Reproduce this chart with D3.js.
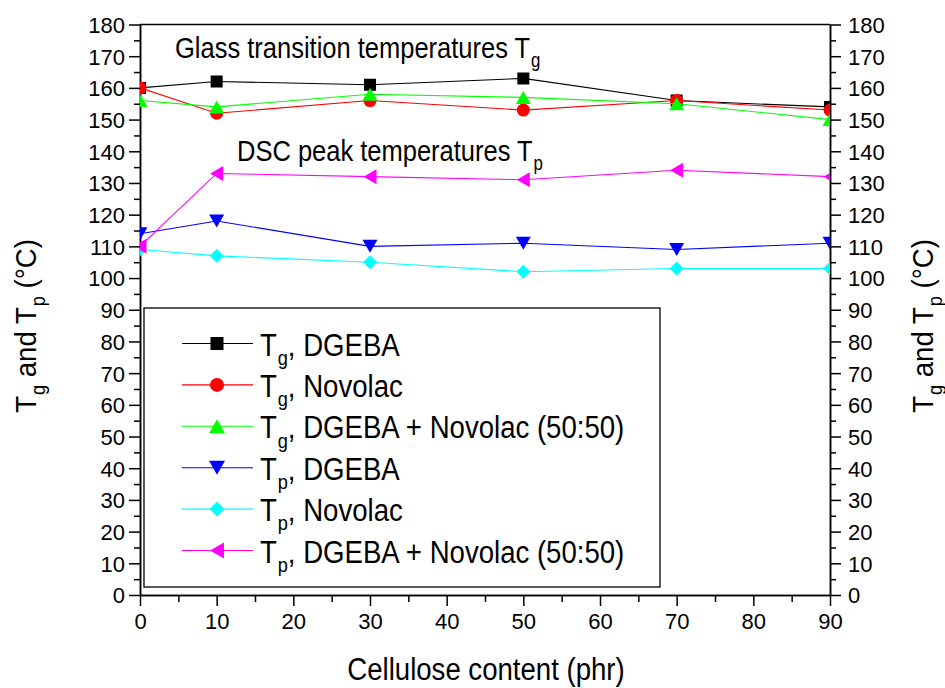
<!DOCTYPE html>
<html>
<head>
<meta charset="utf-8">
<script src="https://cdn.jsdelivr.net/npm/d3@7/dist/d3.min.js"></script>
<style>
  html, body { margin: 0; padding: 0; background: #fff; }
  svg { display: block; font-family: "Liberation Sans", Arial, sans-serif; }
</style>
</head>
<body>
<svg id="chart" width="945" height="688"></svg>
<script>
// Cellulose content (phr)
const cellulose = [0, 10, 30, 50, 70, 90];

// Glass transition temperatures Tg (°C)
const tgDGEBA   = [160, 162, 161, 163, 156, 154];
const tgNovolac = [160, 152, 156, 153, 156, 153];
const tgBlend   = [156, 154, 158, 157, 155, 150];

// DSC peak temperatures Tp (°C)
const tpDGEBA   = [114, 118, 110, 111, 109, 111];
const tpNovolac = [109, 107, 105, 102, 103, 103];
const tpBlend   = [110, 133, 132, 131, 134, 132];

const xTicks = [0, 10, 20, 30, 40, 50, 60, 70, 80, 90];
const yTicks = d3.range(0, 181, 10);

const seriesNames = ["DGEBA", "Novolac", "DGEBA + Novolac (50:50)"];

const series = [
  { sym: "g", name: seriesNames[0], values: tgDGEBA,   color: "#000000", marker: "square" },
  { sym: "g", name: seriesNames[1], values: tgNovolac, color: "#ff0000", marker: "circle" },
  { sym: "g", name: seriesNames[2], values: tgBlend,   color: "#00ff00", marker: "triUp" },
  { sym: "p", name: seriesNames[0], values: tpDGEBA,   color: "#0000ff", marker: "triDown" },
  { sym: "p", name: seriesNames[1], values: tpNovolac, color: "#00ffff", marker: "diamond" },
  { sym: "p", name: seriesNames[2], values: tpBlend,   color: "#ff00ff", marker: "triLeft" }
];

const svg = d3.select("#chart");
const plot = { left: 140, right: 830, top: 24.5, bottom: 595 };

const x = d3.scaleLinear().domain([0, 90]).range([plot.left, plot.right]);
const y = d3.scaleLinear().domain([0, 180]).range([plot.bottom, plot.top]);

// marker outlines centred on the origin
function markerPath(type, s) {
  const h = s / 2;
  switch (type) {
    case "square":  return `M${-h},${-h}H${h}V${h}H${-h}Z`;
    case "circle":  return `M${h},0A${h},${h} 0 1,1 ${-h},0A${h},${h} 0 1,1 ${h},0Z`;
    case "triUp":   return `M0,${-h}L${h + 1},${h}L${-h - 1},${h}Z`;
    case "triDown": return `M0,${h}L${h + 1},${-h}L${-h - 1},${-h}Z`;
    case "triLeft": return `M${-h},0L${h},${-h - 1}L${h},${h + 1}Z`;
    case "diamond": return `M0,${-h - 0.5}L${h + 0.5},0L0,${h + 0.5}L${-h - 0.5},0Z`;
  }
}
const markerSize = { square: 12, circle: 13, triUp: 13, triDown: 13, triLeft: 13, diamond: 13 };

svg.append("clipPath").attr("id", "plotClip")
  .append("rect")
  .attr("x", plot.left).attr("y", plot.top)
  .attr("width", plot.right - plot.left).attr("height", plot.bottom - plot.top);

// frame: top edge
svg.append("line")
  .attr("x1", plot.left).attr("x2", plot.right)
  .attr("y1", plot.top).attr("y2", plot.top)
  .attr("stroke", "#000").attr("stroke-width", 1.5);

// axes
const tickFont = "22px";
function styleAxis(g) {
  g.selectAll("path.domain").attr("stroke", "#000").attr("stroke-width", 1.5);
  g.selectAll(".tick line").attr("stroke", "#000").attr("stroke-width", 1.5);
  g.selectAll(".tick text").attr("font-size", tickFont).attr("fill", "#000")
    .attr("font-family", "'Liberation Sans', Arial, sans-serif");
}

const minorY = d3.range(5, 180, 10);
const minorX = d3.range(5, 90, 10);

// left
svg.append("g").attr("transform", `translate(${plot.left},0)`)
  .call(d3.axisLeft(y).tickValues(minorY).tickSize(6).tickFormat("").tickSizeOuter(0))
  .call(styleAxis);
svg.append("g").attr("transform", `translate(${plot.left},0)`)
  .call(d3.axisLeft(y).tickValues(yTicks).tickSize(11).tickPadding(4).tickSizeOuter(0))
  .call(styleAxis)
  .call(g => g.selectAll(".tick text").attr("dy", "0.36em"));

// right
svg.append("g").attr("transform", `translate(${plot.right},0)`)
  .call(d3.axisRight(y).tickValues(minorY).tickSize(6).tickFormat("").tickSizeOuter(0))
  .call(styleAxis);
svg.append("g").attr("transform", `translate(${plot.right},0)`)
  .call(d3.axisRight(y).tickValues(yTicks).tickSize(11).tickPadding(7).tickSizeOuter(0))
  .call(styleAxis)
  .call(g => g.selectAll(".tick text").attr("dy", "0.36em"));

// bottom
svg.append("g").attr("transform", `translate(0,${plot.bottom})`)
  .call(d3.axisBottom(x).tickValues(minorX).tickSize(7).tickFormat("").tickSizeOuter(0))
  .call(styleAxis);
svg.append("g").attr("transform", `translate(0,${plot.bottom})`)
  .call(d3.axisBottom(x).tickValues(xTicks).tickSize(11).tickPadding(6).tickSizeOuter(0))
  .call(styleAxis)
  .call(g => g.selectAll(".tick text").attr("dy", "0.75em"));

// text with a subscript, horizontally condensed
function labelText(parent, tx, ty, parts, opts = {}) {
  const size = opts.size || 30;
  const sx = opts.sx || 0.88;
  const rot = opts.rotate ? ` rotate(${opts.rotate})` : "";
  const g = parent.append("g").attr("transform", `translate(${tx},${ty})${rot} scale(${sx},1)`);
  const t = g.append("text").attr("font-size", size).attr("fill", "#000")
    .attr("text-anchor", opts.anchor || "start");
  let shifted = 0;
  parts.forEach(p => {
    const ts = t.append("tspan").text(p.text);
    if (p.sub) {
      ts.attr("font-size", size * 0.66).attr("dy", size * 0.3 - shifted).attr("dx", 1);
      shifted = size * 0.3;
    } else if (shifted) {
      ts.attr("dy", -shifted).attr("dx", p.dx || 0);
      shifted = 0;
    }
  });
  return g;
}

// plotted series
const plotArea = svg.append("g").attr("clip-path", "url(#plotClip)");
const line = d3.line().x(d => x(d[0])).y(d => y(d[1]));

series.forEach(s => {
  const pts = cellulose.map((c, i) => [c, s.values[i]]);
  plotArea.append("path").datum(pts)
    .attr("d", line).attr("fill", "none")
    .attr("stroke", s.color).attr("stroke-width", 1.1);
  plotArea.selectAll(null).data(pts).enter().append("path")
    .attr("transform", d => `translate(${x(d[0])},${y(d[1])})`)
    .attr("d", markerPath(s.marker, markerSize[s.marker]))
    .attr("fill", s.color);
});

// annotations
labelText(svg, 175, 58, [
  { text: "Glass transition temperatures T" }, { text: "g", sub: true }
], { sx: 0.85 });
labelText(svg, 237, 161, [
  { text: "DSC peak temperatures T" }, { text: "p", sub: true }
], { sx: 0.85 });

// legend
const legend = svg.append("g");
legend.append("rect")
  .attr("x", 144).attr("y", 308).attr("width", 516).attr("height", 279)
  .attr("fill", "#fff").attr("stroke", "#000").attr("stroke-width", 1.3);

series.forEach((s, i) => {
  const cy = 343.5 + i * 41.4;
  legend.append("line")
    .attr("x1", 182).attr("x2", 253).attr("y1", cy).attr("y2", cy)
    .attr("stroke", s.color).attr("stroke-width", 1.1);
  legend.append("path")
    .attr("transform", `translate(217,${cy})`)
    .attr("d", markerPath(s.marker, markerSize[s.marker] + 1))
    .attr("fill", s.color);
  labelText(legend, 260, cy + 12, [
    { text: "T" }, { text: s.sym, sub: true }, { text: ", " + s.name }
  ], { sx: 0.89, size: 31 });
});

// axis titles
labelText(svg, 486, 680, [{ text: "Cellulose content (phr)" }], { anchor: "middle", sx: 0.89, size: 31 });

const yTitle = [
  { text: "T" }, { text: "g", sub: true }, { text: " and T" },
  { text: "p", sub: true }, { text: " (°C)" }
];
labelText(svg, 36, 326, yTitle, { anchor: "middle", rotate: -90, sx: 0.92 });
labelText(svg, 933, 326, yTitle, { anchor: "middle", rotate: -90, sx: 0.92 });
</script>
</body>
</html>
